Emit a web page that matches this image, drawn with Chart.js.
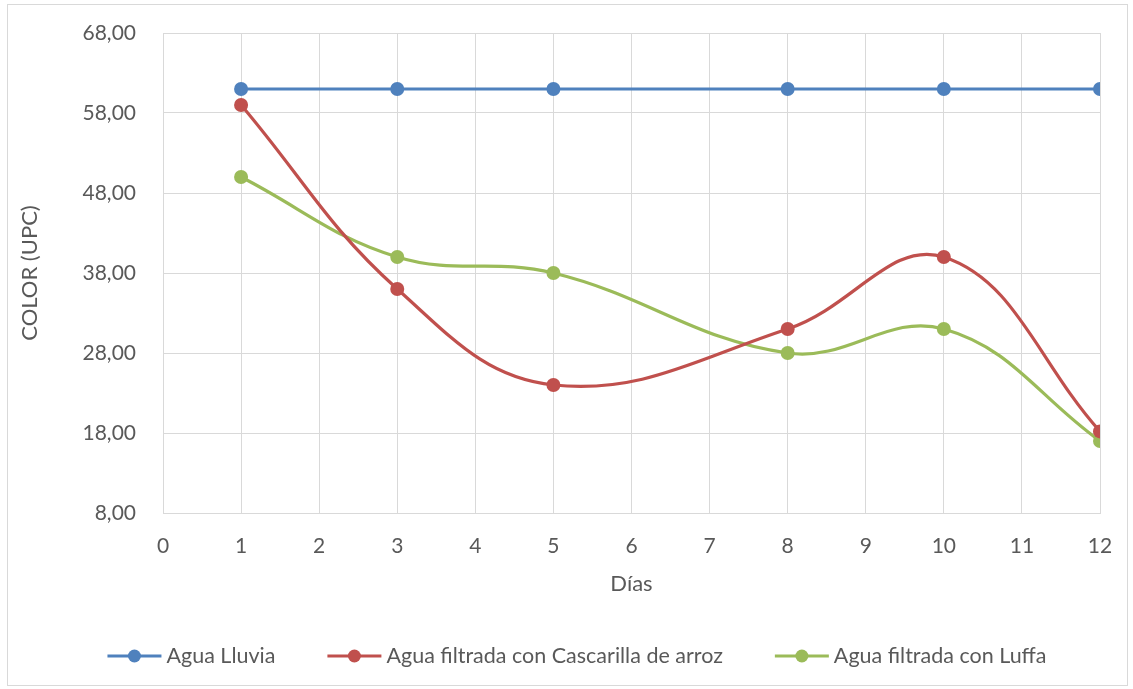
<!DOCTYPE html>
<html>
<head>
<meta charset="utf-8">
<script src="https://cdn.jsdelivr.net/npm/chart.js@4.4.0/dist/chart.umd.min.js"></script>
<style>
  html, body { margin: 0; padding: 0; background: #ffffff; }
  #wrap { width: 1133px; height: 689px; position: relative; }
</style>
</head>
<body>
<div id="wrap"><canvas id="c"></canvas></div>
<script>
const dias = [1, 3, 5, 8, 10, 12];
const aguaLluvia = [61, 61, 61, 61, 61, 61];
const cascarilla = [59, 36, 24, 31, 40, 18.2];
const luffa = [50, 40, 38, 28, 31, 17];
const seriesNames = ['Agua Lluvia', 'Agua filtrada con Cascarilla de arroz', 'Agua filtrada con Luffa'];
const seriesColors = ['#4F81BD', '#C0504D', '#9BBB59'];
const xTitle = 'Días';
const yTitle = 'COLOR (UPC)';

const FONT = 'Lato, "Open Sans", sans-serif';
const TXT = '#595959';
const GRID = '#D9D9D9';

function toPts(vals) { return dias.map((d, i) => ({ x: d, y: vals[i] })); }

const borderPlugin = {
  id: 'outerBorder',
  beforeDraw(chart) {
    const ctx = chart.ctx;
    ctx.save();
    ctx.fillStyle = '#ffffff';
    ctx.fillRect(0, 0, chart.width, chart.height);
    ctx.strokeStyle = GRID;
    ctx.lineWidth = 1;
    ctx.strokeRect(7.5, 4.5, 1120, 681);
    ctx.restore();
  }
};

const legendPlugin = {
  id: 'lineLegend',
  afterDraw(chart) {
    const ctx = chart.ctx;
    ctx.save();
    ctx.font = '21.5px ' + FONT;
    ctx.textBaseline = 'middle';
    const lineW = 54, gapText = 5, gapItem = 52;
    const widths = seriesNames.map(n => ctx.measureText(n).width);
    let total = 0;
    widths.forEach((w, i) => { total += lineW + gapText + w + (i < widths.length - 1 ? gapItem : 0); });
    let x = 577 - total / 2;
    const y = 656;
    seriesNames.forEach((n, i) => {
      ctx.strokeStyle = seriesColors[i];
      ctx.lineWidth = 3;
      ctx.beginPath();
      ctx.moveTo(x, y);
      ctx.lineTo(x + lineW, y);
      ctx.stroke();
      ctx.fillStyle = seriesColors[i];
      ctx.beginPath();
      ctx.arc(x + lineW / 2, y, 6.5, 0, Math.PI * 2);
      ctx.fill();
      ctx.fillStyle = TXT;
      ctx.fillText(n, x + lineW + gapText, y);
      x += lineW + gapText + widths[i] + gapItem;
    });
    ctx.restore();
  }
};

const datasets = [aguaLluvia, cascarilla, luffa].map((vals, i) => ({
  label: seriesNames[i],
  data: toPts(vals),
  borderColor: seriesColors[i],
  backgroundColor: seriesColors[i],
  borderWidth: 3.2,
  pointRadius: 7,
  pointHoverRadius: 7,
  pointBorderWidth: 0,
  tension: 0.4,
  fill: false
}));

new Chart(document.getElementById('c'), {
  type: 'line',
  data: { datasets },
  options: {
    responsive: true,
    maintainAspectRatio: false,
    animation: false,
    layout: { padding: { left: 0, right: 33, top: 33, bottom: 76 } },
    plugins: { legend: { display: false }, tooltip: { enabled: false } },
    scales: {
      x: {
        type: 'linear',
        min: 0, max: 12,
        ticks: { stepSize: 1, color: TXT, font: { family: FONT, size: 21 }, padding: 21 },
        grid: { color: GRID, lineWidth: 1, drawTicks: false },
        border: { color: GRID, width: 1 },
        title: { display: true, text: xTitle, color: TXT, font: { family: FONT, size: 22 }, padding: { top: 0, bottom: 16 } },
        afterFit(s) { s.height = 100; s.paddingLeft = 0; s.paddingRight = 0; }
      },
      y: {
        min: 8, max: 68,
        ticks: {
          stepSize: 10, color: TXT, font: { family: FONT, size: 21 }, padding: 27,
          callback: v => v.toFixed(2).replace('.', ',')
        },
        grid: { color: GRID, lineWidth: 1, drawTicks: false },
        border: { color: GRID, width: 1 },
        title: { display: true, text: yTitle, color: TXT, font: { family: FONT, size: 22 }, padding: { top: 17, bottom: 0 } },
        afterFit(s) { s.width = 163; s.paddingTop = 0; s.paddingBottom = 0; }
      }
    }
  },
  plugins: [borderPlugin, legendPlugin]
});
</script>
</body>
</html>
